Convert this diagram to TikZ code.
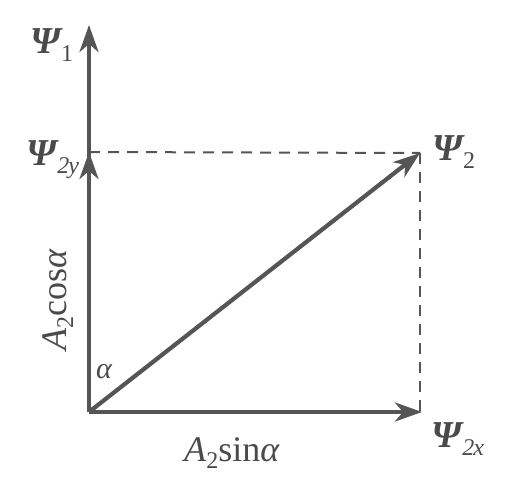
\documentclass[tikz,border=0pt]{standalone}
\usepackage{fontspec}
\setmainfont{Liberation Serif}
\usetikzlibrary{arrows.meta}
\definecolor{ink}{HTML}{555555}
\definecolor{txt}{HTML}{4A4A4A}
\newcommand{\psisub}[1]{\textmd{\fontsize{24}{26}\selectfont\raisebox{-8pt}{#1}}}
\begin{document}
\begin{tikzpicture}[x=1pt,y=-1pt,
  vec/.style={line width=4.2pt,draw=ink,-{Stealth[length=27pt,width=19pt,inset=8pt]}},
  dsh/.style={draw=ink,line width=2pt,dash pattern=on 11pt off 8pt},
  lbl/.style={text=txt,inner sep=0pt,font=\fontsize{36}{38}\selectfont},
  psi/.style={text=txt,inner sep=0pt,font=\fontsize{38}{40}\selectfont\bfseries\itshape}]
\useasboundingbox (0,0) rectangle (514,494);
\coordinate (O) at (89,412);
\coordinate (top) at (89,25);
\coordinate (Y) at (89,152);
\coordinate (P) at (420,153);
\coordinate (X) at (422,412);
\coordinate (C) at (420,153);
\coordinate (D) at (420,412);
\draw[dsh] (Y) -- (C);
\draw[dsh] (C) -- (D);
\draw[vec] (O) -- (top);
\draw[vec] (O) -- (Y);
\draw[vec] (O) -- (P);
\draw[vec] (O) -- (X);
\node[psi] (psi1) at (52,45) {Ψ\psisub{\upshape 1}};
\node[psi] (psi2y) at (53,160) {Ψ\psisub{\itshape 2\kern-1pt y}};
\node[psi] (psi2) at (454,152) {Ψ\psisub{\upshape 2}};
\node[psi] (psi2x) at (458,439) {Ψ\psisub{\itshape 2\kern-1pt x}};
\node[lbl,anchor=base] (sin) at (232,461) {\textit{A}\raisebox{-7pt}{\fontsize{24}{26}\selectfont 2}sin\textit{α}};
\node[lbl,anchor=base,rotate=90] (cos) at (66,300) {\textit{A}\raisebox{-7pt}{\fontsize{24}{26}\selectfont 2}cos\textit{α}};
\node[lbl,font=\fontsize{30}{32}\selectfont\itshape] (al) at (104,372) {α};
\end{tikzpicture}
\end{document}
